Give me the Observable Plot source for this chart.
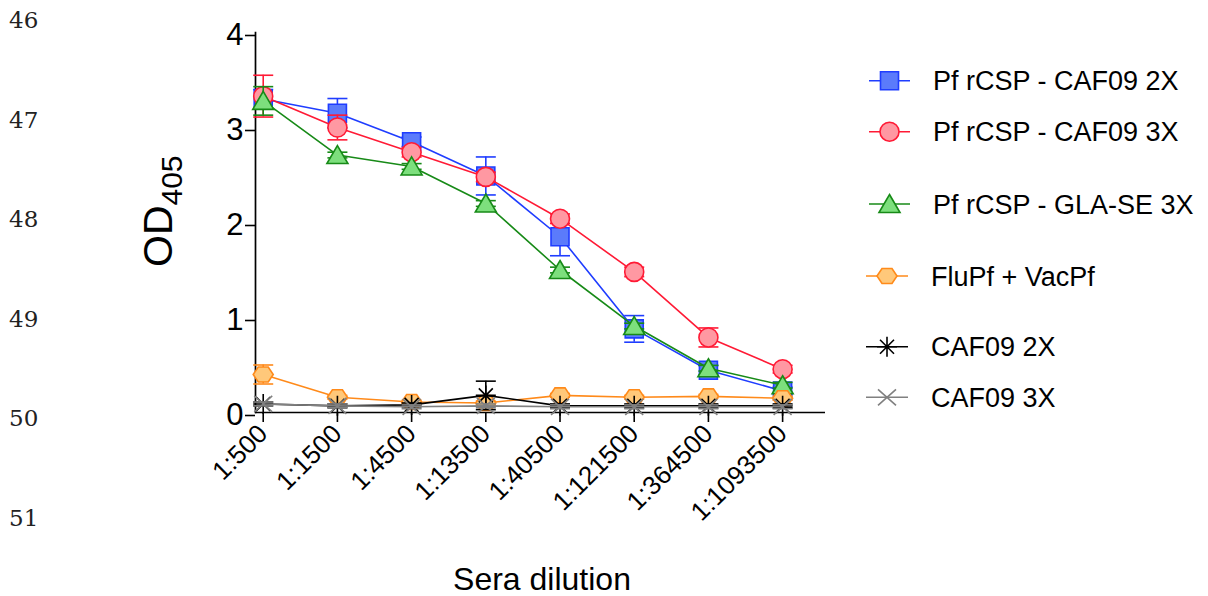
<!DOCTYPE html>
<html><head><meta charset="utf-8">
<script src="https://cdn.jsdelivr.net/npm/d3@7"></script>
<script src="https://cdn.jsdelivr.net/npm/@observablehq/plot@0.6"></script>
<style>body{margin:0;background:#fff} svg{display:block}</style>
</head><body><div id="chart"></div>
<script>
// ---- data ----
const dilutions = ["1:500","1:1500","1:4500","1:13500","1:40500","1:121500","1:364500","1:1093500"];
const seriesNames = ["Pf rCSP - CAF09 2X","Pf rCSP - CAF09 3X","Pf rCSP - GLA-SE 3X","FluPf + VacPf","CAF09 2X","CAF09 3X"];
const rcspCaf2x    = [3.30, 3.15, 2.85, 2.49, 1.85, 0.88, 0.445, 0.227];
const rcspCaf2xErr = [0.10, 0.155, 0.05, 0.20, 0.20, 0.14, 0.05, 0.04];
const rcspCaf3x    = [3.33, 3.00, 2.74, 2.48, 2.04, 1.48, 0.79, 0.456];
const rcspCaf3xErr = [0.22, 0.13, 0.05, 0.05, 0.05, 0.05, 0.10, 0.04];
const rcspGla3x    = [3.28, 2.71, 2.59, 2.20, 1.50, 0.91, 0.466, 0.287];
const rcspGla3xErr = [0.15, 0.03, 0.03, 0.03, 0.03, 0.03, 0.03, 0.03];
const fluVac       = [0.40, 0.16, 0.11, 0.10, 0.18, 0.16, 0.17, 0.15];
const fluVacErr    = [0.10, 0.02, 0.02, 0.02, 0.02, 0.02, 0.02, 0.02];
const caf2x        = [0.09, 0.07, 0.08, 0.18, 0.07, 0.07, 0.07, 0.07];
const caf2xErr     = [0.02, 0.02, 0.02, 0.15, 0.02, 0.02, 0.02, 0.02];
const caf3x        = [0.09, 0.07, 0.06, 0.07, 0.06, 0.06, 0.06, 0.06];
const caf3xErr     = [0.02, 0.02, 0.02, 0.02, 0.02, 0.02, 0.02, 0.02];
const yTicks = [0, 1, 2, 3, 4];
const lineNumbers = ["46","47","48","49","50","51"];

// ---- symbols ----
const sqSym = {draw(c){c.moveTo(-9,-9);c.lineTo(9,-9);c.lineTo(9,9);c.lineTo(-9,9);c.closePath();}};
const ciSym = {draw(c){c.moveTo(9.5,0);c.arc(0,0,9.5,0,2*Math.PI);c.closePath();}};
const trSym = {draw(c){c.moveTo(0,-9.5);c.lineTo(10.5,8.5);c.lineTo(-10.5,8.5);c.closePath();}};
const hxSym = {draw(c){c.moveTo(-10,0);c.lineTo(-5,-7.5);c.lineTo(5,-7.5);c.lineTo(10,0);c.lineTo(5,7.5);c.lineTo(-5,7.5);c.closePath();}};
const stSym = {draw(c){c.moveTo(0,-10);c.lineTo(0,10);c.moveTo(-10,0);c.lineTo(10,0);c.moveTo(-7,-7);c.lineTo(7,7);c.moveTo(-7,7);c.lineTo(7,-7);}};
const xSym  = {draw(c){c.moveTo(-9,-8);c.lineTo(9,8);c.moveTo(-9,8);c.lineTo(9,-8);}};
const capSym = {draw(c){c.moveTo(-10,0);c.lineTo(10,0);}};

const styles = [
  {vals: rcspCaf2x, errs: rcspCaf2xErr, stroke: "#1f3dff", fill: "#5b7bfb", sym: sqSym},
  {vals: rcspCaf3x, errs: rcspCaf3xErr, stroke: "#ff1a35", fill: "#ff98a2", sym: ciSym},
  {vals: rcspGla3x, errs: rcspGla3xErr, stroke: "#178a17", fill: "#7ddf7d", sym: trSym},
  {vals: fluVac,    errs: fluVacErr,    stroke: "#ff8a1a", fill: "#ffc87a", sym: hxSym},
  {vals: caf2x,     errs: caf2xErr,     stroke: "#000000", fill: "none",    sym: stSym},
  {vals: caf3x,     errs: caf3xErr,     stroke: "#808080", fill: "none",    sym: xSym}
];

const marks = [];
styles.forEach((s, k) => {
  const rows = dilutions.map((d, i) => ({series: seriesNames[k], i, v: s.vals[i], e: s.errs[i]}));
  marks.push(Plot.line(rows, {x: "i", y: "v", stroke: s.stroke, strokeWidth: 1.6}));
  marks.push(Plot.ruleX(rows, {x: "i", y1: d => d.v - d.e, y2: d => d.v + d.e, stroke: s.stroke, strokeWidth: 1.6}));
  marks.push(Plot.dot(rows, {x: "i", y: d => d.v + d.e, symbol: capSym, r: 5, fill: "none", stroke: s.stroke, strokeWidth: 1.6}));
  marks.push(Plot.dot(rows, {x: "i", y: d => d.v - d.e, symbol: capSym, r: 5, fill: "none", stroke: s.stroke, strokeWidth: 1.6}));
  marks.push(Plot.dot(rows, {x: "i", y: "v", symbol: s.sym, r: 5, fill: s.fill, stroke: s.stroke, strokeWidth: 1.6}));
});

const chart = Plot.plot({
  width: 1208, height: 596,
  marginLeft: 255, marginRight: 383, marginTop: 32, marginBottom: 184,
  style: {fontFamily: "'Liberation Sans', Arial, sans-serif", background: "#fff", color: "#000"},
  x: {type: "linear", domain: [-0.104, 7.578]},
  y: {domain: [0, 4]},
  marks: [
    Plot.axisY({ticks: yTicks, tickFormat: d => String(d), tickSize: 10, tickPadding: 2, fontSize: 31, label: null, strokeWidth: 1.6, dy: 3}),
    Plot.axisX({ticks: d3.range(dilutions.length), tickFormat: i => dilutions[i], tickSize: 10, tickPadding: 7, tickRotate: -45, fontSize: 26, label: null, strokeWidth: 1.6}),
    Plot.frame({anchor: "left", stroke: "#000", strokeWidth: 1.7}),
    Plot.ruleY([0], {stroke: "#000", strokeWidth: 1.7}),
    ...marks
  ]
});
document.getElementById("chart").appendChild(chart);

// ---- annotations: axis titles, line numbers, legend ----
const svg = d3.select(chart);
const ff = "'Liberation Sans', Arial, sans-serif";
const yl = svg.append("text").attr("transform", "translate(172,267) rotate(-90)")
  .attr("text-anchor", "start").attr("font-family", ff).attr("fill", "#000");
yl.append("tspan").attr("font-size", 41).text("OD");
yl.append("tspan").attr("font-size", 30).attr("dy", 10).text("405");

svg.append("text").attr("x", 542).attr("y", 590).attr("text-anchor", "middle")
  .attr("font-family", ff).attr("font-size", 32).attr("fill", "#000").text("Sera dilution");

const lnY = [20, 119.5, 219, 318.5, 418, 517.5];
lineNumbers.forEach((t, k) => {
  svg.append("text").attr("x", 9).attr("y", lnY[k]).attr("dy", "0.36em").attr("text-anchor", "start")
    .attr("font-family", "'DejaVu Serif', serif").attr("font-size", 23).attr("fill", "#222").text(t);
});

const legY = [80.7, 131.7, 204, 276, 346.7, 397.3];
const legX = [[869, 910, 933], [869, 910, 933], [869, 910, 933], [866, 908, 931], [866, 908, 931], [866, 908, 931]];
styles.forEach((s, k) => {
  const g = svg.append("g");
  const [x1, x2, tx] = legX[k];
  const cx = (x1 + x2) / 2;
  g.append("line").attr("x1", x1).attr("x2", x2).attr("y1", legY[k]).attr("y2", legY[k])
    .attr("stroke", s.stroke).attr("stroke-width", 1.6);
  g.append("path").attr("d", d3.symbol(s.sym)()).attr("transform", `translate(${cx},${legY[k]})`)
    .attr("fill", s.fill).attr("stroke", s.stroke).attr("stroke-width", 1.6);
  g.append("text").attr("x", tx).attr("y", legY[k]).attr("dy", "0.36em").attr("text-anchor", "start")
    .attr("font-family", ff).attr("font-size", 27).attr("fill", "#000").text(seriesNames[k]);
});
</script>
</body></html>
